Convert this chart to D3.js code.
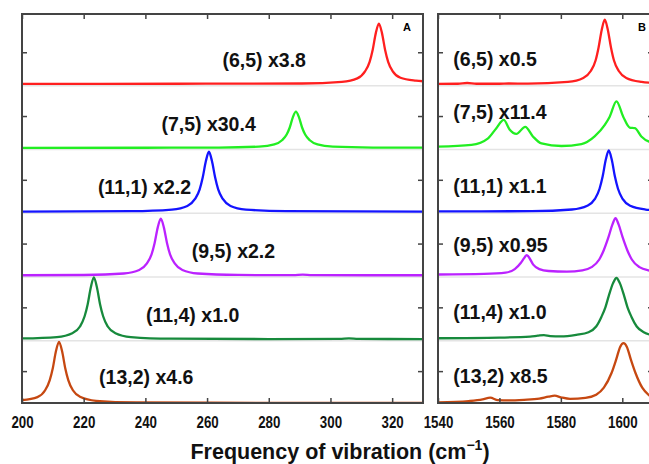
<!DOCTYPE html>
<html>
<head>
<meta charset="utf-8">
<script src="https://cdn.jsdelivr.net/npm/d3@7"></script>
<style>
  body { margin: 0; background: #fff; }
  text { font-family: "Liberation Sans", Arial, sans-serif; }
</style>
</head>
<body>
<svg id="chart" width="649" height="464"></svg>
<script>
// tubes, top row first
const tubes = ["(6,5)", "(7,5)", "(11,1)", "(9,5)", "(11,4)", "(13,2)"];
const factorsA = ["x3.8", "x30.4", "x2.2", "x2.2", "x1.0", "x4.6"];
const factorsB = ["x0.5", "x11.4", "x1.1", "x0.95", "x1.0", "x8.5"];
const colors = ["#ff1f1f", "#22ee22", "#1414ff", "#bb22ff", "#178a3c", "#c64811"];

const ticksA = [200, 220, 240, 260, 280, 300, 320];
const ticksB = [1540, 1560, 1580, 1600];
const rowTicks = [0.5, 1.5, 2.5, 3.5, 4.5, 5.5];

// spectra: [frequency, intensity above own baseline]
const a65 = [[200,0.003],[250,0.006],[290.7,0.01],[303.7,0.035],[308.7,0.09],[311.2,0.2],[312.7,0.35],[313.7,0.54],[314.7,0.8],[315.7,0.95],[316.7,0.8],[317.7,0.54],[318.7,0.35],[320.2,0.2],[322.7,0.1],[327.7,0.055],[330,0.045]];
const a75 = [[200,0],[240,0.003],[263.8,0.005],[276.8,0.02],[281.8,0.055],[284.3,0.12],[285.8,0.21],[286.8,0.32],[287.8,0.48],[288.8,0.57],[289.8,0.48],[290.8,0.32],[291.8,0.21],[293.3,0.12],[295.8,0.055],[300.8,0.02],[313.8,0.006],[330,0.004]];
const a111 = [[200,0.002],[235.6,0.008],[248.6,0.033],[253.6,0.09],[256.1,0.2],[257.6,0.35],[258.6,0.54],[259.6,0.79],[260.6,0.94],[261.6,0.79],[262.6,0.54],[263.6,0.35],[265.1,0.2],[267.6,0.09],[272.6,0.033],[285.6,0.008],[330,0]];
const a95 = [[200,0.003],[220,0.0075],[233,0.031],[238,0.086],[240.5,0.19],[242,0.33],[243,0.51],[244,0.75],[245,0.89],[246,0.75],[247,0.51],[248,0.33],[249.5,0.19],[252,0.086],[257,0.031],[270,0.008],[288,0.004],[291,0.012],[294,0.004],[330,0.003]];
const a114 = [[200,0.012],[211.3,0.034],[216.3,0.094],[218.8,0.2],[220.3,0.36],[221.3,0.55],[222.3,0.81],[223.3,0.97],[224.3,0.81],[225.3,0.55],[226.3,0.36],[227.8,0.2],[230.3,0.094],[235.3,0.034],[248.3,0.008],[280,0.003],[303,0.004],[306,0.012],[309,0.005],[330,0.003]];
const a132 = [[200,0.045],[205,0.093],[207.5,0.2],[209,0.36],[210,0.55],[211,0.81],[212,0.96],[213,0.81],[214,0.55],[215,0.36],[216.5,0.2],[219,0.093],[224,0.034],[237,0.008],[280,0.002],[330,0]];

const b65 = [[1540,0.004],[1546.5,0.006],[1549.5,0.018],[1552.5,0.006],[1560,0.006],[1563,0.01],[1569.3,0.0085],[1582.3,0.035],[1587.3,0.098],[1589.8,0.21],[1591.3,0.37],[1592.3,0.58],[1593.3,0.85],[1594.3,1.01],[1595.3,0.85],[1596.3,0.58],[1597.3,0.37],[1598.8,0.21],[1601.3,0.098],[1606.3,0.035],[1610,0.02]];
const b75 = [[1540,0.02],[1550.9,0.047],[1556.3,0.15],[1559,0.31],[1561.4,0.44],[1563.3,0.29],[1565.5,0.22],[1568.4,0.33],[1570.9,0.18],[1573.7,0.07],[1580.2,0.03],[1586.7,0.06],[1591,0.18],[1594.3,0.36],[1595.9,0.49],[1598.1,0.73],[1600.3,0.49],[1602.4,0.32],[1604.1,0.31],[1606.2,0.18],[1608.7,0.1],[1610,0.09]];
const b111 = [[1540,0.005],[1570.6,0.008],[1583.6,0.034],[1588.6,0.093],[1591.1,0.2],[1592.6,0.36],[1593.6,0.55],[1594.6,0.81],[1595.6,0.96],[1596.6,0.81],[1597.6,0.55],[1598.6,0.36],[1600.1,0.2],[1602.6,0.093],[1607.6,0.034],[1610,0.025]];
const b95 = [[1540,0.015],[1555,0.025],[1562,0.045],[1565,0.1],[1567,0.2],[1568,0.27],[1568.9,0.32],[1569.8,0.27],[1571,0.17],[1573,0.1],[1576,0.07],[1582,0.06],[1587,0.08],[1590,0.13],[1592.5,0.25],[1594,0.4],[1595.5,0.6],[1596.8,0.8],[1597.8,0.9],[1598.8,0.8],[1600.1,0.6],[1601.6,0.4],[1603.1,0.25],[1605.6,0.13],[1608.5,0.08],[1610,0.07]];
const b114 = [[1540,0.015],[1560,0.025],[1570,0.04],[1572.5,0.055],[1574.5,0.065],[1576.5,0.05],[1580,0.045],[1585,0.07],[1589,0.11],[1591.5,0.2],[1593.2,0.35],[1594.5,0.5],[1595.6,0.68],[1597,0.88],[1598.1,0.96],[1599.2,0.88],[1600.6,0.68],[1601.7,0.5],[1603,0.35],[1604.7,0.2],[1607,0.11],[1610,0.06]];
const b132 = [[1540,0.01],[1550,0.03],[1554.5,0.055],[1557,0.083],[1559.5,0.045],[1563,0.04],[1568,0.05],[1573,0.07],[1576,0.1],[1578,0.115],[1580,0.09],[1583,0.065],[1588,0.08],[1591.5,0.13],[1594,0.24],[1596.5,0.47],[1598,0.68],[1599.3,0.88],[1600.4,0.94],[1601.5,0.88],[1602.8,0.68],[1604.3,0.47],[1606.5,0.24],[1608.5,0.13],[1610,0.08]];

// label placement (x in frequency, y in row units)
const labelXA = [265, 245.2, 224.6, 255, 240.2, 225];
const labelYA = [5.27, 4.26, 3.28, 2.27, 1.27, 0.3];
const labelXB = [1545, 1545, 1545, 1545, 1545, 1545];
const labelYB = [5.28, 4.45, 3.29, 2.37, 1.32, 0.31];

const svg = d3.select("#chart");

const y = d3.scaleLinear().domain([0, 6.1]).range([403, 14]);

const panels = [
  { id: "A", x: d3.scaleLinear().domain([200, 330]).range([22, 423]),
    spectra: [a65, a75, a111, a95, a114, a132], factors: factorsA,
    lx: labelXA, ly: labelYA, ticks: ticksA },
  { id: "B", x: d3.scaleLinear().domain([1540, 1610]).range([438, 653]),
    spectra: [b65, b75, b111, b95, b114, b132], factors: factorsB,
    lx: labelXB, ly: labelYB, ticks: ticksB }
];

panels.forEach(p => {
  const x = p.x;
  const [x0, x1] = x.range();
  const g = svg.append("g");

  g.append("clipPath").attr("id", "clip" + p.id)
    .append("rect")
    .attr("x", x0).attr("y", y.range()[1])
    .attr("width", x1 - x0).attr("height", y.range()[0] - y.range()[1]);

  // faint separators under each row
  g.selectAll(".sep")
    .data([1, 2, 3, 4, 5])
    .join("line")
    .attr("x1", x0).attr("x2", x1)
    .attr("y1", d => y(d) + 1.5).attr("y2", d => y(d) + 1.5)
    .attr("stroke", "#e4e4e4")
    .attr("stroke-width", 1.5);

  g.append("g")
    .attr("clip-path", `url(#clip${p.id})`)
    .selectAll("path")
    .data(p.spectra)
    .join("path")
    .attr("fill", "none")
    .attr("stroke", (d, i) => colors[i])
    .attr("stroke-width", 2.3)
    .attr("d", (d, i) => d3.line()
      .x(v => x(v[0]))
      .y(v => y(v[1] + 5 - i))
      .curve(d3.curveMonotoneX)(d));

  g.selectAll(".lab")
    .data(tubes)
    .join("text")
    .attr("x", (d, i) => x(p.lx[i]))
    .attr("y", (d, i) => y(p.ly[i]))
    .attr("font-size", 19.5)
    .attr("font-weight", "bold")
    .attr("fill", "#111")
    .text((d, i) => d + " " + p.factors[i]);

  // axes, ticks pointing inward
  const bottom = g.append("g")
    .attr("transform", "translate(0,403)")
    .call(d3.axisBottom(x).tickValues(p.ticks).tickFormat(d3.format("d"))
      .tickSizeInner(-5).tickSizeOuter(0).tickPadding(14));
  bottom.selectAll("text")
    .attr("font-size", 16)
    .attr("font-weight", "bold")
    .attr("fill", "#111")
    .attr("textLength", d => String(d).length * 7.4)
    .attr("lengthAdjust", "spacingAndGlyphs");

  g.append("g")
    .attr("transform", "translate(0,14)")
    .call(d3.axisTop(x).tickValues(p.ticks).tickSizeInner(-5).tickSizeOuter(0).tickFormat(""));
  g.append("g")
    .attr("transform", `translate(${x0},0)`)
    .call(d3.axisLeft(y).tickValues(rowTicks).tickSizeInner(-5).tickSizeOuter(0).tickFormat(""));
  g.append("g")
    .attr("transform", `translate(${x1},0)`)
    .call(d3.axisRight(y).tickValues(rowTicks).tickSizeInner(-5).tickSizeOuter(0).tickFormat(""));

  g.selectAll(".domain").remove();
  g.selectAll(".tick line").attr("stroke", "#444").attr("stroke-width", 1.5);

  g.append("rect")
    .attr("x", x0).attr("y", 14)
    .attr("width", x1 - x0).attr("height", 389)
    .attr("fill", "none")
    .attr("stroke", "#444")
    .attr("stroke-width", 2);

  g.append("text")
    .attr("x", x1 - 20 + (p.id === "B" ? 5 : 0))
    .attr("y", 31)
    .attr("font-size", 11)
    .attr("font-weight", "bold")
    .text(p.id);
});

const title = svg.append("text")
  .attr("x", 340)
  .attr("y", 459)
  .attr("text-anchor", "middle")
  .attr("font-size", 21.5)
  .attr("font-weight", "bold")
  .attr("fill", "#111");
title.append("tspan").text("Frequency of vibration (cm");
title.append("tspan").attr("dy", -9).attr("font-size", 14).text("\u22121");
title.append("tspan").attr("dy", 9).text(")");
</script>
</body>
</html>
